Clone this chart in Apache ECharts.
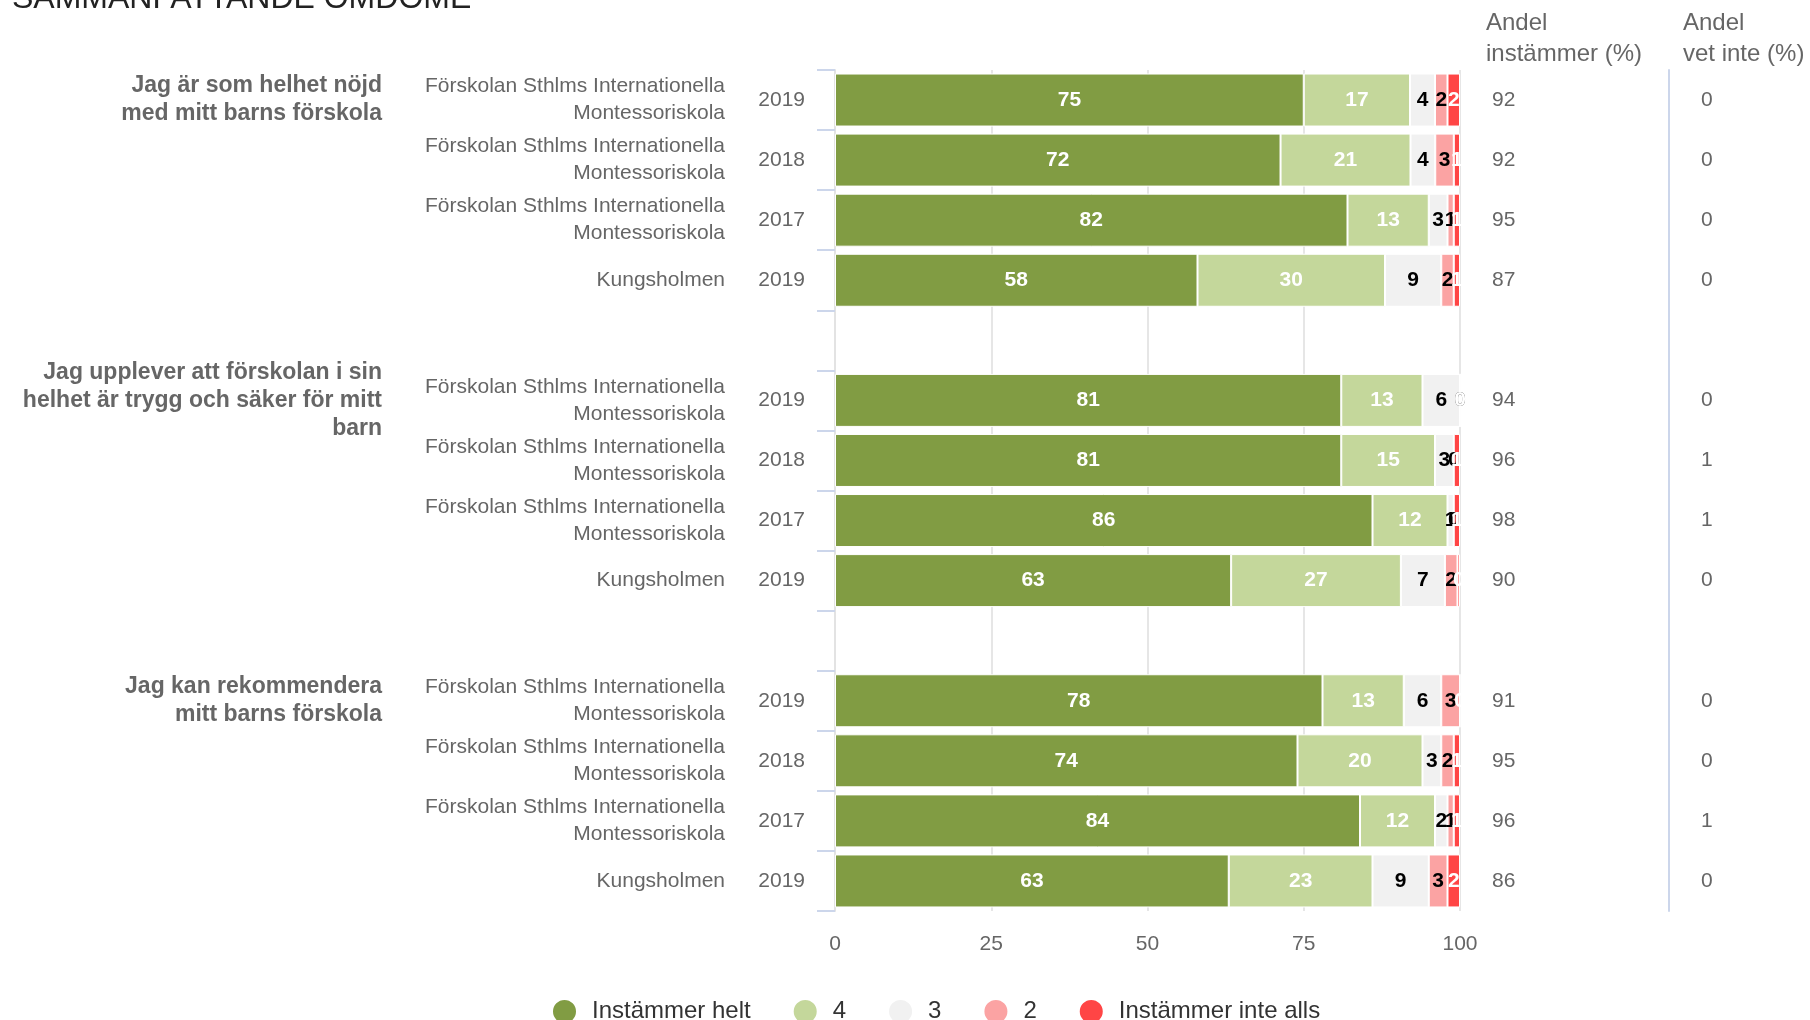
<!DOCTYPE html>
<html>
<head>
<meta charset="utf-8">
<script src="https://cdn.jsdelivr.net/npm/echarts@6/dist/echarts.min.js"></script>
<style>
html,body{margin:0;padding:0;background:#fff;}
#chart{width:1810px;height:1020px;}
</style>
</head>
<body>
<div id="chart"></div>
<script>
// ---------- data ----------
const questions = [
  'Jag är som helhet nöjd\nmed mitt barns förskola',
  'Jag upplever att förskolan i sin\nhelhet är trygg och säker för mitt\nbarn',
  'Jag kan rekommendera\nmitt barns förskola'
];
const schools = [
  'Förskolan Sthlms Internationella\nMontessoriskola', 'Förskolan Sthlms Internationella\nMontessoriskola', 'Förskolan Sthlms Internationella\nMontessoriskola', 'Kungsholmen',
  'Förskolan Sthlms Internationella\nMontessoriskola', 'Förskolan Sthlms Internationella\nMontessoriskola', 'Förskolan Sthlms Internationella\nMontessoriskola', 'Kungsholmen',
  'Förskolan Sthlms Internationella\nMontessoriskola', 'Förskolan Sthlms Internationella\nMontessoriskola', 'Förskolan Sthlms Internationella\nMontessoriskola', 'Kungsholmen'
];
const years = ['2019','2018','2017','2019', '2019','2018','2017','2019', '2019','2018','2017','2019'];
const instammerHelt = [75,72,82,58, 81,81,86,63, 78,74,84,63];
const fyra          = [17,21,13,30, 13,15,12,27, 13,20,12,23];
const tre           = [4,4,3,9,     6,3,1,7,     6,3,2,9];
const tva           = [2,3,1,2,     0,0,0,2,     3,2,1,3];
const instammerInte = [2,1,1,1,     0,1,1,0.4,   0,1,1,2];
const andelInstammer = [92,92,95,87, 94,96,98,90, 91,95,96,86];
const andelVetInte   = [0,0,0,0,     0,1,1,0,     0,0,1,0];
const xTicks = [0,25,50,75,100];
const rowsPerGroup = 4;

// ---------- build slots (rows + gap rows) ----------
const slots = [];
questions.forEach((q, g) => {
  if (g > 0) slots.push({row: null, q: null});
  for (let r = 0; r < rowsPerGroup; r++) {
    slots.push({row: g * rowsPerGroup + r, q: r === 0 ? g : null});
  }
});
const slotIds = slots.map((s, i) => 'slot' + i);

const FONT = "'Liberation Sans', Arial, sans-serif";
const seriesDefs = [
  {name: 'Instämmer helt', values: instammerHelt, color: '#819c43', labelColor: '#ffffff'},
  {name: '4', values: fyra, color: '#c4d79b', labelColor: '#ffffff'},
  {name: '3', values: tre, color: '#f1f1f1', labelColor: '#000000'},
  {name: '2', values: tva, color: '#fba3a3', labelColor: '#000000'},
  {name: 'Instämmer inte alls', values: instammerInte, color: '#ff4545', labelColor: '#ffffff'}
];
const rowSum = years.map((_, r) => seriesDefs.reduce((a, s) => a + s.values[r], 0));

const series = seriesDefs.map(def => ({
  name: def.name,
  type: 'bar',
  stack: 'total',
  yAxisIndex: 0,
  barWidth: 53,
  itemStyle: {color: def.color, borderColor: '#ffffff', borderWidth: 1},
  emphasis: {disabled: true},
  label: {
    show: true,
    position: 'inside',
    color: def.labelColor,
    fontSize: 21,
    fontWeight: 'bold',
    fontFamily: FONT,
    textBorderWidth: 0,
    formatter: p => {
      const s = slots[p.dataIndex];
      return s.row === null ? '' : String(Math.round(def.values[s.row]));
    }
  },
  data: slots.map(s => s.row === null ? '-' : def.values[s.row] / rowSum[s.row] * 100)
}));

const baseCat = {
  type: 'category',
  data: slotIds,
  inverse: true,
  gridIndex: 0,
  axisLine: {show: false},
  axisTick: {show: false},
  splitLine: {show: false}
};

const option = {
  animation: false,
  backgroundColor: '#ffffff',
  title: [
    {text: 'SAMMANFATTANDE OMDÖME', left: 12, top: -17, padding: 0,
     textStyle: {fontSize: 32, fontWeight: 'normal', color: '#222', fontFamily: FONT}},
    {text: 'Andel\ninstämmer (%)', left: 1486, top: 8, padding: 0,
     textStyle: {fontSize: 24, lineHeight: 31, fontWeight: 'normal', color: '#666', fontFamily: FONT}},
    {text: 'Andel\nvet inte (%)', left: 1683, top: 8, padding: 0,
     textStyle: {fontSize: 24, lineHeight: 31, fontWeight: 'normal', color: '#666', fontFamily: FONT}}
  ],
  legend: {
    left: 546,
    top: 993,
    icon: 'circle',
    itemWidth: 45,
    itemHeight: 25,
    itemGap: 41,
    textStyle: {fontSize: 24, color: '#333', fontFamily: FONT},
    data: seriesDefs.map(s => s.name)
  },
  grid: {left: 835, width: 625, top: 70, height: 841, containLabel: false},
  xAxis: {
    type: 'value',
    min: xTicks[0],
    max: xTicks[xTicks.length - 1],
    interval: xTicks[1] - xTicks[0],
    axisLine: {show: false},
    axisTick: {show: false},
    splitLine: {show: true, lineStyle: {color: '#e6e6e6', width: 2}},
    axisLabel: {fontSize: 21, color: '#666', margin: 23, fontFamily: FONT}
  },
  yAxis: [
    Object.assign({}, baseCat, {
      position: 'left',
      axisLine: {show: true, lineStyle: {color: '#e3e3e3', width: 2}},
      axisTick: {show: true, interval: 0, length: 18, lineStyle: {color: '#ccd6eb', width: 2}},
      axisLabel: {interval: 0, margin: 30, fontSize: 21, color: '#666', fontFamily: FONT,
        formatter: (v, i) => slots[i].row === null ? '' : years[slots[i].row]}
    }),
    Object.assign({}, baseCat, {
      position: 'left',
      axisLabel: {interval: 0, margin: 110, fontSize: 21, lineHeight: 27, color: '#666', fontFamily: FONT, align: 'right',
        formatter: (v, i) => slots[i].row === null ? '' : schools[slots[i].row]}
    }),
    Object.assign({}, baseCat, {
      position: 'left',
      axisLabel: {interval: 0, margin: 453, fontSize: 23, lineHeight: 28, fontWeight: 'bold', color: '#666', fontFamily: FONT, align: 'right',
        formatter: (v, i) => slots[i].q === null ? '' : questions[slots[i].q]}
    }),
    Object.assign({}, baseCat, {
      position: 'right',
      axisLabel: {interval: 0, margin: 32, fontSize: 21, color: '#666', fontFamily: FONT, align: 'left',
        formatter: (v, i) => slots[i].row === null ? '' : String(andelInstammer[slots[i].row])}
    }),
    Object.assign({}, baseCat, {
      position: 'right',
      offset: 209,
      axisLine: {show: true, lineStyle: {color: '#ccd6eb', width: 2}},
      axisLabel: {interval: 0, margin: 32, fontSize: 21, color: '#666', fontFamily: FONT, align: 'left',
        formatter: (v, i) => slots[i].row === null ? '' : String(andelVetInte[slots[i].row])}
    })
  ],
  series: series
};

const chart = echarts.init(document.getElementById('chart'), null, {renderer: 'canvas'});
chart.setOption(option);
</script>
</body>
</html>
